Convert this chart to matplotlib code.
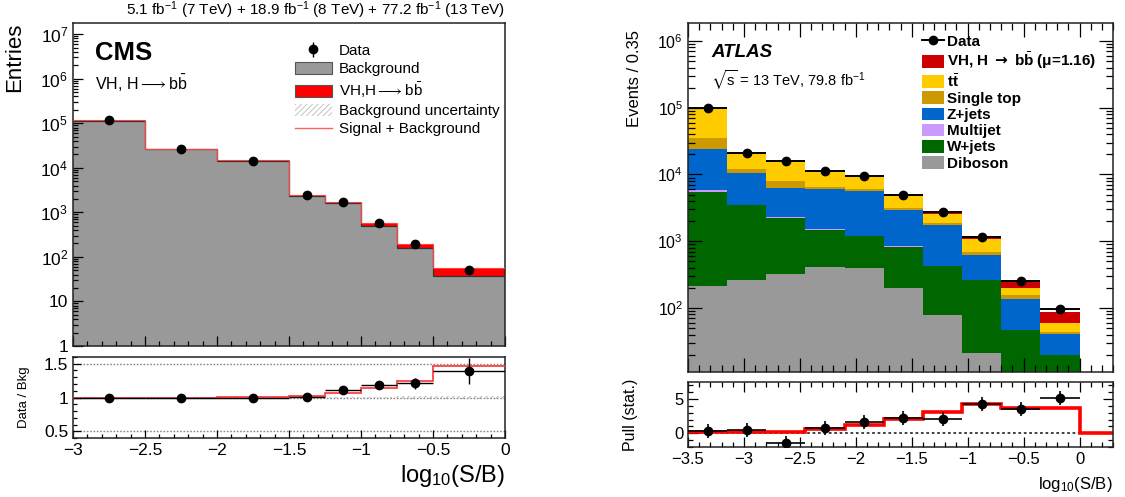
import numpy as np
import matplotlib
matplotlib.use("Agg")
import matplotlib.pyplot as plt
from matplotlib.patches import Patch
from matplotlib.lines import Line2D
from matplotlib.ticker import MultipleLocator, FixedLocator, FuncFormatter, LogLocator, NullFormatter

plt.rcParams['font.family'] = ['Liberation Sans', 'DejaVu Sans']
plt.rcParams['mathtext.fontset'] = 'custom'
plt.rcParams['mathtext.rm'] = 'Liberation Sans'
plt.rcParams['mathtext.it'] = 'Liberation Sans:italic'
plt.rcParams['mathtext.bf'] = 'Liberation Sans:bold'
plt.rcParams['mathtext.sf'] = 'DejaVu Sans:bold'
plt.rcParams['mathtext.fallback'] = 'stixsans'
plt.rcParams['hatch.linewidth'] = 0.6

ARROW = r'$\longrightarrow$'

# ---- CMS combination, log10(S/B) bins ----
cms_edges = [-3.0, -2.5, -2.0, -1.5, -1.25, -1.0, -0.75, -0.5, 0.0]
cms_bkg = [1.15e5, 2.6e4, 1.45e4, 2.35e3, 1.58e3, 490, 155, 37]
cms_sig = [120, 60, 140, 50, 110, 80, 36, 18]
cms_data = [1.2e5, 2.6e4, 1.45e4, 2.4e3, 1.7e3, 590, 190, 51]
cms_data_err = [350, 160, 120, 49, 41, 24, 14, 7]
cms_bkg_unc = [0.002, 0.003, 0.004, 0.006, 0.008, 0.012, 0.02, 0.025]
cms_ratio = [1.0, 1.0, 0.99, 1.01, 1.115, 1.19, 1.21, 1.39]
cms_ratio_err = [0.003, 0.006, 0.008, 0.02, 0.025, 0.04, 0.08, 0.19]
cms_ratio_sb = [1.0, 1.0, 1.01, 1.02, 1.07, 1.14, 1.24, 1.46]

# ---- ATLAS, 0.35 wide bins ----
atl_edges = [-3.5, -3.15, -2.8, -2.45, -2.1, -1.75, -1.4, -1.05, -0.7, -0.35, 0.0]
atl_diboson = [213, 260, 327, 410, 400, 202, 78, 21, 5, 2]
atl_wjets = [5290, 3190, 1923, 1070, 780, 618, 342, 239, 41, 17.5]
atl_multijet = [300, 60, 50, 30, 25, 20, 7, 6, 1, 0.5]
atl_zjets = [18200, 6990, 4000, 4490, 4395, 2060, 1303, 349, 91, 21]
atl_stop = [11000, 1500, 1700, 500, 500, 300, 140, 75, 17, 2.5]
atl_ttbar = [65000, 9500, 8000, 4700, 3600, 1750, 730, 380, 47, 16.5]
atl_vh = [150, 30, 40, 50, 60, 70, 150, 130, 52, 27]
atl_data = [1.0e5, 2.1e4, 1.6e4, 1.12e4, 9.5e3, 5.0e3, 2.75e3, 1.17e3, 250, 98]
atl_data_err = [320, 145, 126, 106, 97, 71, 52, 34, 16, 10]
pull_edges = atl_edges + [0.35]
pull_exp = [0.15, 0.25, 0.25, 0.63, 1.22, 2.06, 3.1, 4.26, 3.76, 3.76, 0.0]
pull_data = [0.38, 0.53, -1.43, 0.73, 1.7, 2.2, 2.06, 4.26, 3.53, 5.15]
pull_err = [1.0] * 10


def log_label(v, pos):
    e = int(round(np.log10(v)))
    if e == 0:
        return '1'
    if e == 1:
        return '10'
    return r'$10^{%d}$' % e


def minus_label(v, pos):
    return ('%g' % v).replace('-', '\u2212')


def style_ticks(a, fs, allsides=False, major=7, minor=3.5):
    a.tick_params(which='both', direction='in', labelsize=fs, top=allsides, right=allsides, width=0.9)
    a.tick_params(which='major', length=major)
    a.tick_params(which='minor', length=minor)
    for s in a.spines.values():
        s.set_linewidth(1.1)
        s.set_color('#222222')


fig = plt.figure(figsize=(11.25, 4.97), dpi=100)

# ================= CMS =================
a1 = fig.add_axes([0.0649, 0.3038, 0.384, 0.650])
a1r = fig.add_axes([0.0649, 0.1187, 0.384, 0.163], sharex=a1)

e = np.array(cms_edges)
c = 0.5 * (e[1:] + e[:-1])
hw = 0.5 * (e[1:] - e[:-1])
bkg = np.array(cms_bkg)
sig = np.array(cms_sig)
unc = np.array(cms_bkg_unc)

a1.stairs(bkg, e, baseline=0.1, fill=True, color='#999999', zorder=1)
a1.stairs(bkg + sig, e, baseline=bkg, fill=True, color='#ff0000', zorder=2)
a1.stairs(bkg * (1 + unc), e, baseline=bkg * (1 - unc), fill=True, facecolor='none',
          edgecolor='#777777', hatch='//////', lw=0, zorder=3)
a1.stairs(bkg, e, baseline=None, color='#333333', lw=0.9, zorder=3)
a1.stairs(bkg + sig, e, baseline=None, color='#ff4040', lw=0.8, zorder=4)
dat = a1.errorbar(c, cms_data, yerr=cms_data_err, fmt='o', color='k', ms=6,
                  elinewidth=1, capsize=0, zorder=5)

a1.set_yscale('log')
a1.set_ylim(1, 10 ** 7.25)
a1.set_xlim(-3, 0)
a1.yaxis.set_major_locator(FixedLocator([10.0 ** k for k in range(8)]))
a1.yaxis.set_major_formatter(FuncFormatter(log_label))
a1.yaxis.set_minor_locator(LogLocator(base=10, subs=np.arange(2, 10), numticks=20))
a1.yaxis.set_minor_formatter(NullFormatter())
a1.xaxis.set_major_locator(MultipleLocator(0.5))
a1.xaxis.set_minor_locator(MultipleLocator(0.1))
style_ticks(a1, 12.5)
plt.setp(a1.get_xticklabels(), visible=False)
a1.set_ylabel('Entries', fontsize=16, loc='top')
a1.yaxis.set_label_coords(-0.112, 1.0)

a1.text(1.0, 1.006, r'5.1 fb$^{-1}$ (7 TeV) + 18.9 fb$^{-1}$ (8 TeV) + 77.2 fb$^{-1}$ (13 TeV)',
        transform=a1.transAxes, ha='right', va='bottom', fontsize=11)
a1.text(0.05, 0.945, 'CMS', transform=a1.transAxes, ha='left', va='top',
        fontsize=18.5, fontweight='bold')
a1.text(0.05, 0.845, 'VH, H' + ARROW + 'b$\\bar{\\rm b}$', transform=a1.transAxes,
        ha='left', va='top', fontsize=11.5)

h_bkg = Patch(facecolor='#999999', edgecolor='#555555', lw=0.8)
h_sig = Patch(facecolor='#ff0000', edgecolor='#555555', lw=0.8)
h_unc = Patch(facecolor='white', edgecolor='#bbbbbb', hatch='//////', lw=0)
h_sb = Line2D([], [], color='#ff6060', lw=1)
leg1 = a1.legend([dat, h_bkg, h_sig, h_unc, h_sb],
                 ['Data', 'Background', 'VH,H' + ARROW + 'b$\\bar{\\rm b}$',
                  'Background uncertainty', 'Signal + Background'],
                 loc='upper left', bbox_to_anchor=(0.5, 0.955), frameon=False,
                 fontsize=11, handlelength=2.4, handleheight=0.85,
                 handletextpad=0.45, labelspacing=0.25, borderaxespad=0)

# ratio
for yv in (0.5, 1.0, 1.5):
    a1r.axhline(yv, color='#888888', ls=(0, (1.2, 1.2)), lw=1, zorder=1)
a1r.stairs(1 + unc, e, baseline=1 - unc, fill=True, facecolor='none',
           edgecolor='#aaaaaa', hatch='//////', lw=0, zorder=2)
a1r.stairs(cms_ratio_sb, e, baseline=None, color='#ff4040', lw=1.3, zorder=3)
a1r.errorbar(c, cms_ratio, yerr=cms_ratio_err, xerr=hw, fmt='o', color='k', ms=6,
             elinewidth=1, capsize=0, zorder=4)
a1r.set_ylim(0.4, 1.6)
a1r.set_yticks([0.5, 1, 1.5])
a1r.set_yticklabels(['0.5', '1', '1.5'])
a1r.yaxis.set_minor_locator(MultipleLocator(0.1))
a1r.xaxis.set_major_locator(MultipleLocator(0.5))
a1r.xaxis.set_minor_locator(MultipleLocator(0.1))
style_ticks(a1r, 12.5, major=6, minor=3)
a1r.xaxis.set_major_formatter(FuncFormatter(minus_label))
a1r.set_ylabel('Data / Bkg', fontsize=9.5)
a1r.yaxis.set_label_coords(-0.1, 0.5)
a1r.set_xlabel(r'log$_{10}$(S/B)', fontsize=17, loc='right', labelpad=4)

# ================= ATLAS =================
a2 = fig.add_axes([0.6116, 0.2515, 0.3778, 0.702])
a2p = fig.add_axes([0.6116, 0.1006, 0.3778, 0.1308], sharex=a2)

ea = np.array(atl_edges)
ca = 0.5 * (ea[1:] + ea[:-1])
hwa = 0.5 * (ea[1:] - ea[:-1])

stack = [
    (atl_diboson, '#999999', 'Diboson'),
    (atl_wjets, '#006600', 'W+jets'),
    (atl_multijet, '#cc99ff', 'Multijet'),
    (atl_zjets, '#0066cc', 'Z+jets'),
    (atl_stop, '#cc9900', 'Single top'),
    (atl_ttbar, '#ffcc00', r't$\bar{\mathbf{t}}$'),
    (atl_vh, '#cc0000', r'VH, H $\mathsf{\rightarrow}$ b$\bar{\mathbf{b}}$ (μ=1.16)'),
]
bottom = np.full(len(ca), 0.1)
handles = []
for vals, col, lab in stack:
    top = bottom + np.array(vals)
    a2.stairs(top, ea, baseline=bottom, fill=True, color=col, lw=0, zorder=1)
    handles.append((Patch(facecolor=col, edgecolor='none'), lab))
    bottom = top

datA = a2.errorbar(ca, atl_data, yerr=atl_data_err, xerr=hwa, fmt='o', color='k', ms=6,
                   elinewidth=1.4, capsize=0, zorder=5)

a2.set_yscale('log')
a2.set_ylim(11, 1.85e6)
a2.set_xlim(-3.5, 0.3)
a2.yaxis.set_major_locator(FixedLocator([10.0 ** k for k in range(2, 7)]))
a2.yaxis.set_major_formatter(FuncFormatter(log_label))
a2.yaxis.set_minor_locator(LogLocator(base=10, subs=np.arange(2, 10), numticks=20))
a2.yaxis.set_minor_formatter(NullFormatter())
a2.xaxis.set_major_locator(MultipleLocator(0.5))
a2.xaxis.set_minor_locator(MultipleLocator(0.1))
style_ticks(a2, 11.5, allsides=True, major=10, minor=5)
plt.setp(a2.get_xticklabels(), visible=False)
a2.set_ylabel('Events / 0.35', fontsize=12, loc='top')
a2.yaxis.set_label_coords(-0.108, 0.98)

a2.text(0.055, 0.94, 'ATLAS', transform=a2.transAxes, ha='left', va='top',
        fontsize=13.5, fontweight='bold', fontstyle='italic')
a2.text(0.055, 0.87, r'$\sqrt{\mathrm{s}}$ = 13 TeV, 79.8 fb$^{-1}$', transform=a2.transAxes,
        ha='left', va='top', fontsize=10.5)

h_data = Line2D([], [], color='k', marker='o', ms=6, lw=1.4)
leg_h = [h_data] + [h for h, _ in handles[::-1]]
leg_l = ['Data'] + [l for _, l in handles[::-1]]
leg2 = a2.legend(leg_h, leg_l, loc='upper left', bbox_to_anchor=(0.535, 0.985),
                 frameon=False, prop={'size': 11, 'weight': 'bold'},
                 handlelength=1.45, handleheight=0.9, handletextpad=0.2,
                 labelspacing=0.1, borderaxespad=0)

# pull
a2p.axhline(0, color='#333333', ls=(0, (1.5, 1.5)), lw=1.3, zorder=1)
a2p.stairs(pull_exp, pull_edges, baseline=None, color='#ff0000', lw=2.6, zorder=2)
a2p.errorbar(ca, pull_data, yerr=pull_err, xerr=hwa, fmt='o', color='k', ms=6,
             elinewidth=1.2, capsize=0, zorder=3)
a2p.set_ylim(-2.0, 7.5)
a2p.set_yticks([0, 5])
a2p.yaxis.set_minor_locator(MultipleLocator(1))
a2p.xaxis.set_major_locator(MultipleLocator(0.5))
a2p.xaxis.set_minor_locator(MultipleLocator(0.1))
style_ticks(a2p, 12, allsides=True, major=7, minor=3.5)
a2p.xaxis.set_major_formatter(FuncFormatter(minus_label))
a2p.set_ylabel('Pull (stat.)', fontsize=11.5)
a2p.yaxis.set_label_coords(-0.118, 0.5)
a2p.set_xlabel(r'log$_{10}$(S/B)', fontsize=12, loc='right', labelpad=6)

fig.savefig('out.png', dpi=100)
